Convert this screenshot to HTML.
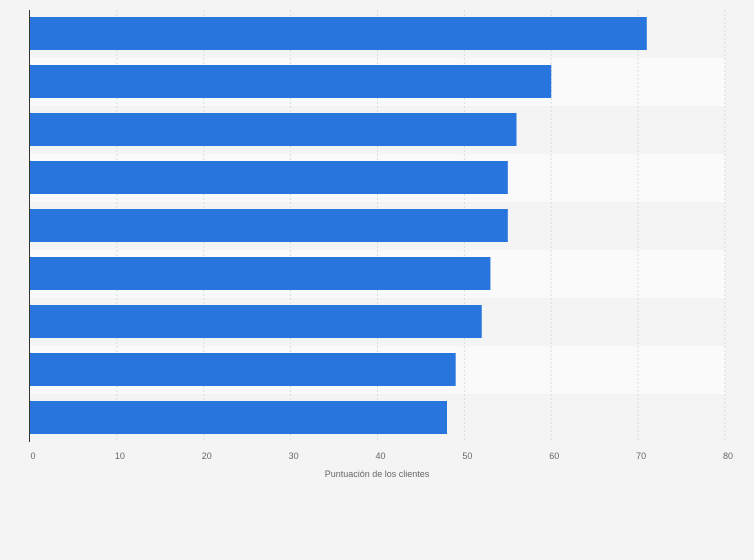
<!DOCTYPE html>
<html><head><meta charset="utf-8"><style>
body{margin:0;background:#f4f4f4;}
svg{display:block;font-family:"Liberation Sans",sans-serif;}
</style></head><body>
<svg id="c" width="754" height="560"></svg>
<script>
const categories=["c1","c2","c3","c4","c5","c6","c7","c8","c9"];
const values=[71,60,56,55,55,53,52,49,48];
const ticks=[0,10,20,30,40,50,60,70,80];
const ns="http://www.w3.org/2000/svg";
const svg=document.getElementById('c');
const x0=30,x1=725,yTop=10,rowH=48,xMax=80;
const xs=v=>x0+(x1-x0)*v/xMax;
function el(t,a){const e=document.createElementNS(ns,t);for(const k in a)e.setAttribute(k,a[k]);svg.appendChild(e);return e;}
categories.forEach((c,i)=>{
  const r=el('rect',{x:x0,y:yTop+i*rowH,width:x1-x0,height:rowH,fill:i%2?'#fafafa':'#f4f4f4'});
  
  
});
ticks.forEach(t=>{
  if(t>0){const g=el('line',{x1:xs(t),x2:xs(t),y1:yTop,y2:yTop+rowH*categories.length,stroke:'#dcdcdc','stroke-dasharray':'2,2'});
  
  }
  const tx=el('text',{x:xs(t)+3,y:459,'font-size':9,fill:'#666','text-anchor':'middle'});
  tx.textContent=t;
  
  
});
values.forEach((v,i)=>{
  const b=el('rect',{x:x0,y:yTop+i*rowH+7,width:xs(v)-x0,height:33,fill:'#2876dd'});
  
  
});
const ax=el('line',{x1:29.5,x2:29.5,y1:yTop,y2:yTop+rowH*categories.length,stroke:'#333','stroke-width':1});


const tl=el('text',{x:377,y:477,'font-size':9,fill:'#666','text-anchor':'middle'});
tl.textContent='Puntuación de los clientes';


</script>
</body></html>
